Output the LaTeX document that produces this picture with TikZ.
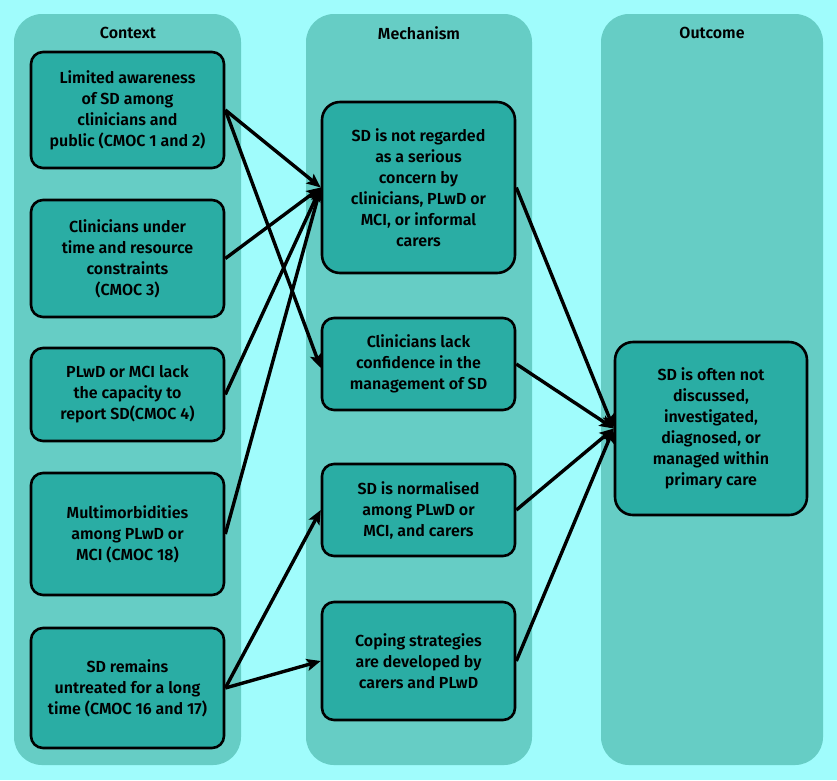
\documentclass[tikz,border=0pt]{standalone}
\usepackage{fontspec}
\setmainfont{Fira Sans}[UprightFont={* SemiBold}]
\usetikzlibrary{arrows.meta}
\definecolor{bgcol}{RGB}{160,252,252}
\definecolor{panelcol}{RGB}{102,205,197}
\definecolor{boxcol}{RGB}{42,173,164}
\tikzset{
  panel/.style={fill=panelcol, draw=none, rounded corners=28pt},
  hdr/.style={font=\fontsize{16}{21}\selectfont, text=black, inner sep=0pt},
  cbox/.style={draw=black, line width=2.6pt, fill=boxcol, rounded corners=12pt,
    align=center, inner sep=0pt, font=\fontsize{16}{21}\selectfont,
    minimum width=193pt},
  bigbox/.style={cbox, rounded corners=18pt},
  link/.style={line width=3.4pt, draw=black, -{Stealth[length=14pt,width=12pt,inset=3pt]}}
}
\begin{document}
\begin{tikzpicture}[x=1pt,y=-1pt]
\fill[bgcol] (0,0) rectangle (837,780);
\useasboundingbox (0,0) rectangle (837,780);
% panels
\fill[panel] (14,14) rectangle (241,765);
\fill[panel] (306,14) rectangle (532,765);
\fill[panel] (601,14) rectangle (823,765);
\node[hdr] (hc) at (128,33) {Context};
\node[hdr] (hm) at (419,33) {Mechanism};
\node[hdr] (ho) at (712,33) {Outcome};
% context
\node[cbox, minimum height=116pt] (c1) at (127.5,110) {Limited awareness\\of SD among\\clinicians and\\public (CMOC 1 and 2)};
\node[cbox, minimum height=117pt] (c2) at (127.5,258.5) {Clinicians under\\time and resource\\constraints\\(CMOC 3)};
\node[cbox, minimum height=93pt] (c3) at (127.5,394.5) {PLwD or MCI lack\\the capacity to\\report SD(CMOC 4)};
\node[cbox, minimum height=122pt] (c4) at (127.5,534) {Multimorbidities\\among PLwD or\\MCI (CMOC 18)};
\node[cbox, minimum height=120pt] (c5) at (127.5,688) {SD remains\\untreated for a long\\time (CMOC 16 and 17)};
% mechanism
\node[bigbox, minimum height=171pt] (m1) at (418.5,187.5) {SD is not regarded\\as a serious\\concern by\\clinicians, PLwD or\\MCI, or informal\\carers};
\node[cbox, minimum height=92pt] (m2) at (418.5,364) {Clinicians lack\\confidence in the\\management of SD};
\node[cbox, minimum height=92pt] (m3) at (418.5,510) {SD is normalised\\among PLwD or\\MCI, and carers};
\node[cbox, minimum height=118pt] (m4) at (418.5,661) {Coping strategies\\are developed by\\carers and PLwD};
% outcome
\node[bigbox, minimum width=192pt, minimum height=173pt] (o) at (711,428.5) {SD is often not\\discussed,\\investigated,\\diagnosed, or\\managed within\\primary care};
% links
\draw[link] (c1.east) -- (m1.west);
\draw[link] (c1.east) -- ([yshift=-4pt]m2.west);
\draw[link] (c2.east) -- (m1.west);
\draw[link] (c3.east) -- (m1.west);
\draw[link] (c4.east) -- (m1.west);
\draw[link] (c5.east) -- (m3.west);
\draw[link] (c5.east) -- (m4.west);
\draw[link] (m1.east) -- (o.west);
\draw[link] (m2.east) -- (o.west);
\draw[link] (m3.east) -- (o.west);
\draw[link] (m4.east) -- (o.west);
\end{tikzpicture}
\end{document}
